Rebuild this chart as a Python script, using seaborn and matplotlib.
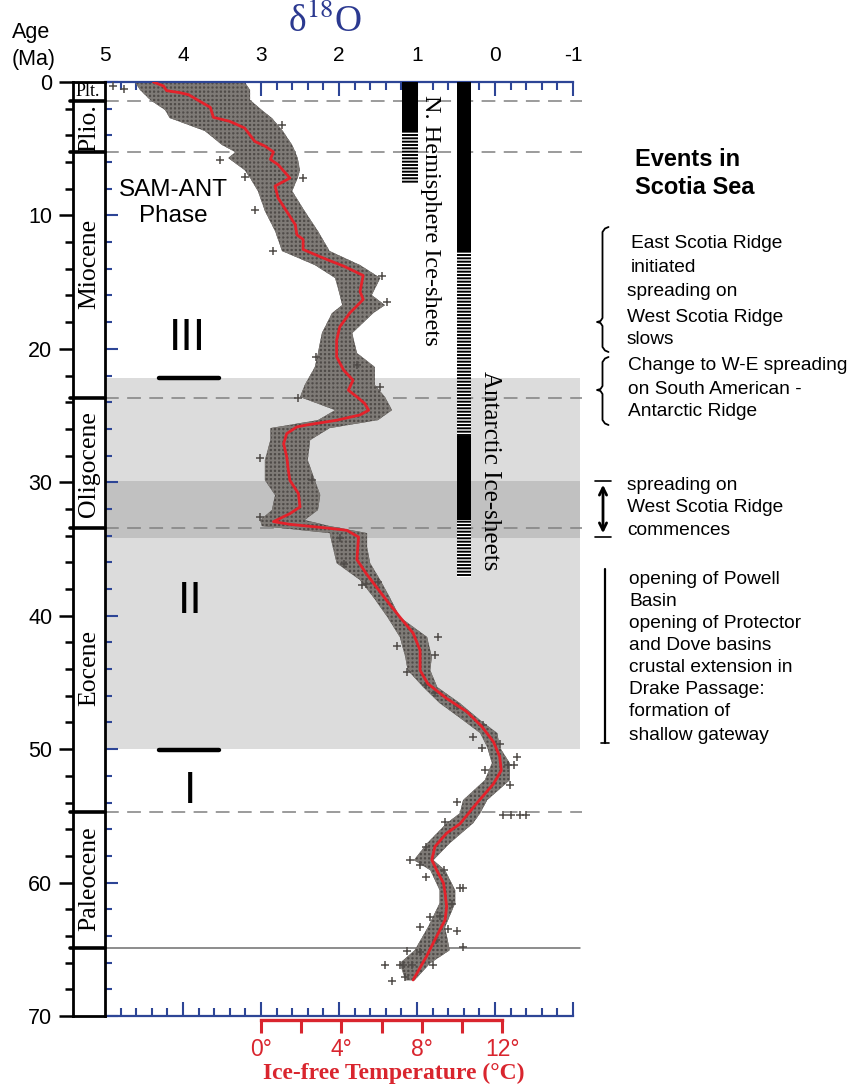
import numpy as np
import pandas as pd
import matplotlib
matplotlib.use('Agg')
import matplotlib.pyplot as plt
import matplotlib.transforms as mtransforms
from matplotlib.ticker import MultipleLocator, FixedLocator
from matplotlib.lines import Line2D
from matplotlib.patches import FancyArrowPatch
import seaborn as sns

# ---- data ----
# smoothed d18O curve (red)
curve_age = [0.0, 0.3, 0.65, 0.8, 0.95, 1.9, 2.65, 2.95, 3.45, 4.45, 4.8, 5.25, 5.8, 6.2,
             7.2, 7.8, 8.7, 9.7, 10.7, 11.45, 11.8, 12.55, 13.2, 13.8, 14.5, 15.7, 16.3,
             16.9, 17.3, 18.35, 19.35, 20.6, 21.6, 22.35, 23.1, 23.6, 24.1, 24.6, 24.95,
             25.35, 25.7, 25.85, 26.35, 27.1, 28.1, 29.1, 29.85, 30.85, 31.85, 32.35,
             32.95, 33.15, 33.45, 33.6, 34.1, 35.8, 36.85, 38.85, 40.1, 41.3, 42.6, 44.1,
             45.1, 46.2, 47.2, 48.3, 49.45, 50.55, 51.6, 52.6, 54.1, 55.6, 56.3, 57.3,
             58.3, 59.05, 60.05, 60.8, 61.8, 62.8, 64.05, 65.55, 67.3]
curve_d18o = [4.38, 4.25, 4.21, 4.04, 3.93, 3.65, 3.61, 3.40, 3.21, 3.08, 2.95, 2.84, 2.88, 2.78,
              2.63, 2.82, 2.78, 2.67, 2.56, 2.54, 2.46, 2.46, 2.20, 1.94, 1.69, 1.73, 1.69,
              1.79, 1.86, 1.99, 2.03, 2.03, 1.94, 1.82, 1.88, 1.77, 1.67, 1.62, 1.73,
              2.03, 2.41, 2.54, 2.67, 2.71, 2.67, 2.65, 2.63, 2.52, 2.50, 2.63,
              2.84, 2.63, 2.12, 1.90, 1.75, 1.77, 1.65, 1.39, 1.22, 1.05, 0.96, 0.96,
              0.86, 0.62, 0.36, 0.17, 0.02, -0.06, -0.08, 0.02, 0.24, 0.45, 0.62, 0.77,
              0.81, 0.75, 0.66, 0.64, 0.62, 0.64, 0.75, 0.88, 1.05]

# extent of the dense cloud of measurements
cloud_age = [0.0, 0.6, 1.35, 2.1, 2.7, 3.67, 4.72, 5.25, 5.7, 6.6, 7.2, 8.17, 9.67, 11.17,
             12.67, 13.72, 14.69, 15.97, 16.72, 17.32, 18.82, 20.31, 21.36, 22.71, 23.61,
             24.59, 25.34, 25.94, 26.84, 28.34, 29.84, 30.96, 32.08, 32.83, 33.28, 33.81,
             34.86, 36.06, 37.33, 38.61, 40.1, 41.6, 43.1, 44.08, 45.35, 46.55, 47.83,
             48.8, 49.85, 51.05, 52.32, 53.82, 54.8, 55.55, 57.05, 58.32, 59.07, 60.57,
             61.54, 63.34, 65.07, 66.04, 67.32]
cloud_left = [4.62, 4.55, 4.42, 4.23, 4.17, 3.72, 3.50, 3.33, 3.42, 3.21, 3.14, 3.04, 2.95, 2.82,
              2.73, 2.31, 2.05, 1.99, 1.96, 2.09, 2.22, 2.27, 2.31, 2.44, 2.50,
              2.05, 2.27, 2.88, 2.88, 2.95, 2.95, 2.82, 2.86, 3.01, 2.99, 2.12,
              2.08, 2.03, 1.73, 1.56, 1.38, 1.22, 1.15, 1.12, 0.92, 0.71, 0.41,
              0.19, 0.10, 0.04, 0.13, 0.41, 0.45, 0.62, 0.87, 1.04, 0.83, 0.71,
              0.71, 0.86, 1.03, 1.22, 1.15]
cloud_right = [3.21, 3.14, 3.14, 2.99, 2.86, 2.72, 2.60, 2.56, 2.53, 2.50, 2.53, 2.60, 2.44, 2.27,
               2.12, 1.73, 1.47, 1.58, 1.41, 1.56, 1.83, 1.77, 1.54, 1.54, 1.41,
               1.32, 1.50, 2.12, 2.37, 2.40, 2.31, 2.24, 2.27, 2.44, 2.12, 1.64,
               1.64, 1.60, 1.47, 1.35, 1.22, 0.87, 0.81, 0.83, 0.74, 0.45, 0.19,
               -0.03, -0.06, -0.19, -0.19, 0.10, 0.19, 0.28, 0.58, 0.79, 0.64, 0.51,
               0.51, 0.64, 0.58, 0.83, 1.03]

# scattered single measurements outside the dense cloud
pts_age = [0.3, 0.5, 3.2, 5.82, 7.15, 7.2, 9.57, 12.65, 14.57, 16.5, 20.6, 21.2, 22.85,
           23.7, 28.2, 29.85, 32.6, 34.2, 36.1, 37.45, 37.6, 37.7, 41.6, 42.3, 42.95,
           44.2, 45.2, 45.8, 46.8, 48.2, 49.1, 49.6, 49.95, 50.6, 51.2, 51.2, 51.6,
           52.7, 53.95, 54.9, 54.9, 54.9, 54.9, 55.45, 57.3, 58.3, 58.7, 59.07, 59.6,
           60.4, 60.4, 61.57, 62.5, 62.6, 63.3, 63.5, 63.6, 64.3, 64.8, 65.1, 65.2,
           66.2, 66.2, 66.2, 66.2, 66.2, 67.07, 67.4]
pts_d18o = [4.9, 4.75, 2.73, 3.53, 3.21, 2.46, 3.08, 2.84, 1.45, 1.39, 2.29, 1.77, 1.47,
            2.52, 3.01, 2.35, 3.01, 1.99, 1.93, 1.50, 1.65, 1.71, 0.73, 1.26, 0.77,
            1.13, 0.88, 0.77, 0.49, 0.15, 0.28, -0.06, 0.17, -0.28, -0.17, -0.24, 0.13,
            -0.19, 0.49, -0.32, -0.10, -0.20, -0.40, 0.64, 0.88, 1.09, 0.96, 0.66, 0.88,
            0.45, 0.41, 0.55, 0.71, 0.83, 0.96, 0.60, 0.49, 0.75, 0.41, 1.13, 0.96,
            1.41, 1.22, 0.79, 1.07, 1.18, 1.15, 1.32]

# geological epochs
epoch_names = ['Plt.', 'Plio.', 'Miocene', 'Oligocene', 'Eocene', 'Paleocene']
epoch_mid = [0.7, 3.45, 13.6, 28.6, 43.9, 59.7]
epoch_bounds = [1.46, 5.25, 23.65, 33.4, 54.7, 64.9]
dashed_bounds = [1.46, 5.25, 23.65, 33.4, 54.7]
kt_bound = 64.9

# ice-sheet bars: (x position in d18O, start age, end age, full/partial)
ice_x = [1.09, 1.09, 0.40, 0.40, 0.40, 0.40]
ice_w = [0.205, 0.205, 0.18, 0.18, 0.18, 0.18]
ice_start = [0.0, 3.7, 0.0, 12.7, 26.5, 32.8]
ice_end = [3.7, 7.6, 12.7, 26.5, 32.8, 37.1]
ice_full = [True, False, True, False, True, False]

# shaded phases
phase_light = (22.2, 50.0)
phase_dark = (29.9, 34.2)

temp_ticks = [0, 4, 8, 12]
temp_minor = [2, 6, 10]

# ---- figure ----
sns.set_theme(style='white')
plt.rcParams['font.family'] = ['Liberation Sans', 'DejaVu Sans']
plt.rcParams['mathtext.fontset'] = 'stix'
plt.rcParams['axes.unicode_minus'] = False
plt.rcParams['hatch.linewidth'] = 1.4
for key in ['text.color', 'xtick.color', 'ytick.color', 'xtick.labelcolor',
            'ytick.labelcolor', 'axes.labelcolor']:
    plt.rcParams[key] = 'black'

W, H = 867, 1084
fig = plt.figure(figsize=(W / 100, H / 100), dpi=100)
fig.patch.set_facecolor('white')


def fx(x):
    return x / W


def fy(y):
    return 1 - y / H


BLUE = '#2d4596'
RED = '#d9252e'
SERIF = ['Liberation Serif', 'DejaVu Serif']

ax = fig.add_axes([fx(105), fy(1016), (573 - 105) / W, (1016 - 82) / H])
cax = fig.add_axes([fx(73), fy(1016), 32 / W, (1016 - 82) / H])
ax.set_facecolor('none')

# shaded bands and boundary lines
trans = mtransforms.blended_transform_factory(ax.transAxes, ax.transData)
ax.axhspan(*phase_light, xmin=0, xmax=1.016, color='#dcdcdc', lw=0, zorder=0, clip_on=False)
ax.axhspan(*phase_dark, xmin=0, xmax=1.016, color='#c1c1c1', lw=0, zorder=0, clip_on=False)
for b in dashed_bounds:
    ax.plot([0, 1.02], [b, b], transform=trans, color='#808080', lw=1.1,
            ls=(0, (9, 5.5)), clip_on=False, zorder=1)
ax.plot([0, 1.016], [kt_bound, kt_bound], transform=trans, color='#6e6e6e', lw=1.1,
        clip_on=False, zorder=1)

# measurement cloud, outliers and smoothed curve
ax.fill_betweenx(cloud_age, cloud_left, cloud_right, facecolor='#4f4b48',
                 edgecolor='#7e7a76', hatch='++++', linewidth=0, zorder=2)
sns.scatterplot(x=pts_d18o, y=pts_age, marker='+', color='#4f4b48', s=30,
                linewidth=1.1, ax=ax, zorder=3)
sns.lineplot(x=curve_d18o, y=curve_age, sort=False, estimator=None, color='#e3222b',
             lw=2.0, ax=ax, zorder=4)

# ice-sheet bars
for x, w, s, e, full in zip(ice_x, ice_w, ice_start, ice_end, ice_full):
    if full:
        ax.bar(x, e - s, bottom=s, width=w, color='black', lw=0, zorder=3)
    else:
        ax.bar(x, e - s, bottom=s, width=w, facecolor='white', edgecolor='black',
               hatch='-----', lw=0, zorder=3)
ax.text(0.83, 10.35, 'N. Hemisphere Ice-sheets', rotation=-90, ha='center', va='center',
        family=SERIF, fontsize=17.5, zorder=5)
ax.text(0.07, 29.1, 'Antarctic Ice-sheets', rotation=-90, ha='center', va='center',
        family=SERIF, fontsize=18, zorder=5)

# axes styling
ax.set_xlim(5, -1)
ax.set_ylim(70, 0)
ax.set_xlabel('')
ax.set_ylabel('')
ax.xaxis.set_major_locator(MultipleLocator(1))
ax.xaxis.set_minor_locator(MultipleLocator(0.2))
ax.yaxis.set_major_locator(MultipleLocator(10))
ax.yaxis.set_minor_locator(MultipleLocator(2))
ax.tick_params(axis='x', which='both', top=True, bottom=True, labeltop=True,
               labelbottom=False, direction='in', color=BLUE, width=1.5)
ax.tick_params(axis='x', which='major', length=10, pad=12, labelsize=15, labelcolor='black')
ax.tick_params(axis='x', which='minor', length=5.5)
ax.tick_params(axis='y', which='both', left=True, right=False, labelleft=False,
               direction='in', color=BLUE, width=1.5)
ax.tick_params(axis='y', which='major', length=9.5)
ax.tick_params(axis='y', which='minor', length=5)
for side in ['top', 'bottom']:
    ax.spines[side].set_color(BLUE)
    ax.spines[side].set_linewidth(1.6)
ax.spines['left'].set_visible(False)
ax.spines['right'].set_visible(False)


# ice-free temperature scale
def d2t(d):
    return (3 - np.asarray(d)) * 12 / 3.094


def t2d(t):
    return 3 - np.asarray(t) * 3.094 / 12


sec = ax.secondary_xaxis(-0.0048, functions=(d2t, t2d))
sec.xaxis.set_major_locator(FixedLocator(temp_ticks))
sec.xaxis.set_minor_locator(FixedLocator(temp_minor))
sec.set_xticklabels([f'{t}°' for t in temp_ticks])
sec.spines['bottom'].set_bounds(0, 12)
sec.spines['bottom'].set_color(RED)
sec.spines['bottom'].set_linewidth(2.4)
sec.tick_params(axis='x', which='both', direction='out', color=RED, width=2.2,
                length=9.5, labelcolor=RED, labelsize=16.5, pad=3)
fig.text(fx(394), fy(1071), 'Ice-free Temperature (°C)', color=RED, family=SERIF,
         fontweight='bold', fontsize=17, ha='center', va='center_baseline')

# stratigraphic column
cax.set_ylim(70, 0)
cax.set_xlim(0, 1)
cax.set_xticks([])
cax.yaxis.set_major_locator(MultipleLocator(10))
cax.yaxis.set_minor_locator(MultipleLocator(2))
cax.tick_params(axis='y', which='both', left=True, direction='out', color='black', width=1.8)
cax.tick_params(axis='y', which='major', length=10, labelsize=15.5, pad=5, labelcolor='black')
cax.tick_params(axis='y', which='minor', length=6)
for s in cax.spines.values():
    s.set_color('black')
    s.set_linewidth(2)
for b in epoch_bounds:
    cax.plot([-0.1, 1], [b, b], color='black', lw=2.6, clip_on=False)
for name, mid in zip(epoch_names, epoch_mid):
    if name == 'Plt.':
        cax.text(0.45, mid, name, ha='center', va='center', family=SERIF, fontsize=13)
    else:
        cax.text(0.5, mid, name, rotation=90, ha='center', va='center', family=SERIF,
                 fontsize=18.5)

# titles
fig.text(fx(12), fy(38), 'Age', fontsize=15.5, ha='left', va='baseline')
fig.text(fx(12), fy(65), '(Ma)', fontsize=15.5, ha='left', va='baseline')
fig.text(fx(325), fy(18), 'δ$^{18}$O', fontsize=27, color='#2b3990', family=SERIF,
         ha='center', va='center_baseline')

# phases
fig.text(fx(173), fy(188), 'SAM-ANT', fontsize=17.5, ha='center', va='center_baseline')
fig.text(fx(173), fy(213), 'Phase', fontsize=17.5, ha='center', va='center_baseline')
for lab, (px, py) in zip(['III', 'II', 'I'], [(187, 334), (190, 597), (190, 787)]):
    fig.text(fx(px), fy(py), lab, fontsize=32, ha='center', va='center_baseline')
for py in [378, 750]:
    fig.add_artist(Line2D([fx(159), fx(219)], [fy(py), fy(py)], color='black', lw=3.2,
                          transform=fig.transFigure))

# events in Scotia Sea
fig.text(fx(635), fy(157), 'Events in', fontsize=17, fontweight='bold', va='center_baseline')
fig.text(fx(635), fy(185), 'Scotia Sea', fontsize=17, fontweight='bold', va='center_baseline')
event_lines = [
    (631, 242, 'East Scotia Ridge'), (631, 265, 'initiated'),
    (627, 290, 'spreading on'), (627, 315, 'West Scotia Ridge'), (627, 338, 'slows'),
    (628, 364, 'Change to W-E spreading'), (628, 387, 'on South American -'),
    (628, 410, 'Antarctic Ridge'),
    (627, 483, 'spreading on'), (627, 506, 'West Scotia Ridge'), (627, 528, 'commences'),
    (629, 577, 'opening of Powell'), (629, 599, 'Basin'), (629, 621, 'opening of Protector'),
    (629, 643, 'and Dove basins'), (629, 665, 'crustal extension in'),
    (629, 688, 'Drake Passage:'), (629, 710, 'formation of'), (629, 733, 'shallow gateway'),
]
for px, py, txt in event_lines:
    fig.text(fx(px), fy(py), txt, fontsize=13.8, ha='left', va='center_baseline')


def brace(top, tip, bottom, x=602.5):
    xs = [x + 6, x + 2.5, x, x, x - 2, x - 5.5, x - 2, x, x, x + 2.5, x + 6]
    ys = [top, top + 1.5, top + 5, tip - 4, tip - 1, tip, tip + 1, tip + 4,
          bottom - 5, bottom - 1.5, bottom]
    fig.add_artist(Line2D([fx(v) for v in xs], [fy(v) for v in ys], color='black',
                          lw=1.3, transform=fig.transFigure))


brace(227, 322, 352)
brace(357, 390, 425)

fig.add_artist(FancyArrowPatch((fx(603), fy(482)), (fx(603), fy(536)), arrowstyle='<->',
                               mutation_scale=13, lw=2, color='black',
                               transform=fig.transFigure))
for py in [481, 537]:
    fig.add_artist(Line2D([fx(595), fx(611)], [fy(py), fy(py)], color='black', lw=1.2,
                          transform=fig.transFigure))
fig.add_artist(Line2D([fx(605), fx(605)], [fy(569), fy(743)], color='black', lw=1.6,
                      transform=fig.transFigure))
fig.add_artist(Line2D([fx(601), fx(609)], [fy(743), fy(743)], color='black', lw=1.2,
                      transform=fig.transFigure))

fig.savefig('out.png', dpi=100, facecolor='white')
